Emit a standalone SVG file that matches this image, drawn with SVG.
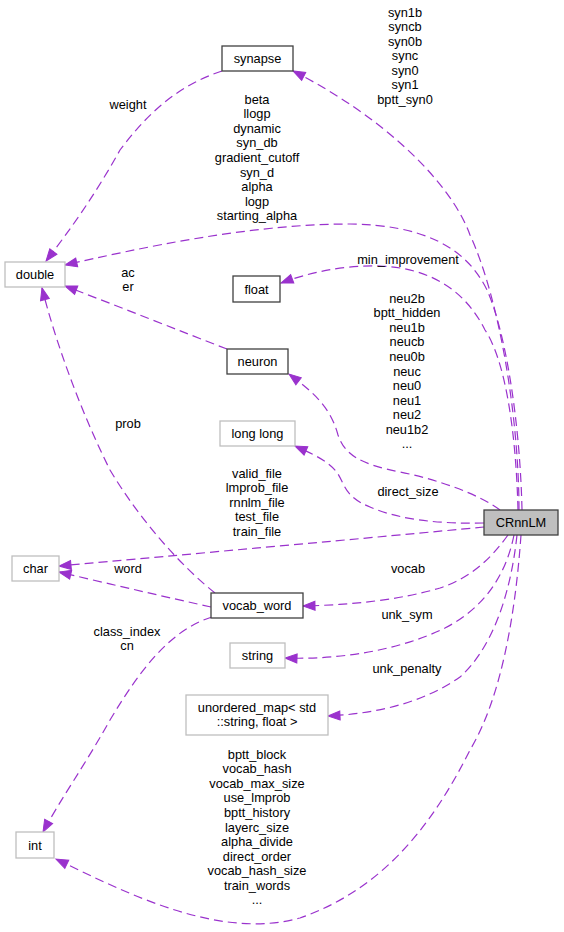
<svg xmlns="http://www.w3.org/2000/svg" width="564" height="932" viewBox="0 0 564 932">
<style>
text{font-family:"Liberation Sans",Arial,sans-serif;font-size:12.8px;fill:#000;text-anchor:middle}
.n{fill:#fff;stroke:#404040;stroke-width:1.3}
.g{fill:#fff;stroke:#bfbfbf;stroke-width:1.3}
.m{fill:#bfbfbf;stroke:#404040;stroke-width:1.3}
.e{fill:none;stroke:#9a32cd;stroke-width:1.2;stroke-dasharray:9,5;marker-end:url(#ah)}
</style>
<defs>
<marker id="ah" markerWidth="14" markerHeight="11" refX="12.5" refY="5" orient="auto" markerUnits="userSpaceOnUse" overflow="visible">
<path d="M0.5,0.5 L12.5,5 L0.5,9.5 z" fill="#9a32cd" stroke="#9a32cd" stroke-width="1"/>
</marker>
</defs>
<rect width="564" height="932" fill="#fff"/>
<g id="connectors">
<path class="e" d="M519,510 C519,420 500,300 470,235 C450,180 380,115 293,71"/>
<path class="e" d="M522,510 C520,420 505,330 487,290 C465,245 420,225 350,224 C250,224 140,248 65,265"/>
<path class="e" d="M518,510 C516,430 505,360 485,330 C465,290 430,268 380,266 C340,265 305,274 281,283"/>
<path class="e" d="M500,510 C480,495 440,480 400,472 C360,464 345,455 338,435 C330,405 310,390 289,374"/>
<path class="e" d="M484,523 C440,524 400,520 370,507 C345,497 345,485 338,474 C330,462 315,455 295,446"/>
<path class="e" d="M484,527 C380,537 180,555 59,566"/>
<path class="e" d="M508,535 C490,560 470,578 440,588 C400,600 350,605 303,606"/>
<path class="e" d="M514,535 C505,580 480,610 445,628 C400,650 340,660 285,658"/>
<path class="e" d="M517,535 C510,600 490,650 460,677 C420,705 370,714 328,716"/>
<path class="e" d="M521,535 C515,620 500,700 470,750 C430,830 380,890 300,918 C220,940 130,895 56,859"/>
<path class="e" d="M222,71 C180,85 150,110 120,150 C95,195 70,230 46,261"/>
<path class="e" d="M227,349 C180,331 120,307 65,286"/>
<path class="e" d="M215,593 C180,565 140,520 110,470 C80,410 55,340 42,288"/>
<path class="e" d="M211,607 C170,598 110,584 59,572"/>
<path class="e" d="M212,617 C170,630 140,670 110,720 C85,765 60,800 43,832"/>
</g>
<g id="edge-labels">
<text x="405" y="16.5">syn1b</text>
<text x="405" y="31">syncb</text>
<text x="405" y="45.5">syn0b</text>
<text x="405" y="60">sync</text>
<text x="405" y="74.5">syn0</text>
<text x="405" y="89">syn1</text>
<text x="405" y="103.5">bptt_syn0</text>
<text x="128" y="108.5">weight</text>
<text x="257" y="103.5">beta</text>
<text x="257" y="118.1">llogp</text>
<text x="257" y="132.7">dynamic</text>
<text x="257" y="147.3">syn_db</text>
<text x="257" y="161.9">gradient_cutoff</text>
<text x="257" y="176.5">syn_d</text>
<text x="257" y="191.1">alpha</text>
<text x="257" y="205.7">logp</text>
<text x="257" y="220.3">starting_alpha</text>
<text x="408" y="263.5">min_improvement</text>
<text x="128" y="276.5">ac</text>
<text x="128" y="291">er</text>
<text x="407" y="302.5">neu2b</text>
<text x="407" y="317.1">bptt_hidden</text>
<text x="407" y="331.7">neu1b</text>
<text x="407" y="346.3">neucb</text>
<text x="407" y="360.9">neu0b</text>
<text x="407" y="375.5">neuc</text>
<text x="407" y="390.1">neu0</text>
<text x="407" y="404.7">neu1</text>
<text x="407" y="419.3">neu2</text>
<text x="407" y="433.9">neu1b2</text>
<text x="407" y="448">...</text>
<text x="408" y="495.5">direct_size</text>
<text x="128" y="427.5">prob</text>
<text x="257" y="477.5">valid_file</text>
<text x="257" y="492.1">lmprob_file</text>
<text x="257" y="506.7">rnnlm_file</text>
<text x="257" y="521.3">test_file</text>
<text x="257" y="535.9">train_file</text>
<text x="128" y="572.5">word</text>
<text x="408" y="572.5">vocab</text>
<text x="407" y="618.5">unk_sym</text>
<text x="407" y="672.5">unk_penalty</text>
<text x="127" y="635.5">class_index</text>
<text x="127" y="650">cn</text>
<text x="257" y="758.5">bptt_block</text>
<text x="257" y="773.1">vocab_hash</text>
<text x="257" y="787.7">vocab_max_size</text>
<text x="257" y="802.3">use_lmprob</text>
<text x="257" y="816.9">bptt_history</text>
<text x="257" y="831.5">layerc_size</text>
<text x="257" y="846.1">alpha_divide</text>
<text x="257" y="860.7">direct_order</text>
<text x="257" y="875.3">vocab_hash_size</text>
<text x="257" y="889.9">train_words</text>
<text x="257" y="904">...</text>
</g>
<g id="CRnnLM"><rect class="m" x="484" y="510" width="74" height="25"/><text x="521" y="527">CRnnLM</text></g>
<g id="synapse"><rect class="n" x="222" y="46" width="71" height="25"/><text x="257.5" y="63">synapse</text></g>
<g id="double"><rect class="g" x="5" y="262" width="60" height="25"/><text x="35" y="279">double</text></g>
<g id="float"><rect class="n" x="233" y="276" width="47" height="26"/><text x="256.5" y="293.5">float</text></g>
<g id="neuron"><rect class="n" x="227" y="349" width="61" height="25"/><text x="257.5" y="366">neuron</text></g>
<g id="long_long"><rect class="g" x="220" y="421" width="75" height="25"/><text x="257.5" y="438">long long</text></g>
<g id="char"><rect class="g" x="12" y="556" width="47" height="25"/><text x="35.5" y="573">char</text></g>
<g id="vocab_word"><rect class="n" x="211" y="593" width="92" height="25"/><text x="257" y="610">vocab_word</text></g>
<g id="string"><rect class="g" x="230" y="643" width="55" height="25"/><text x="257.5" y="660">string</text></g>
<g id="unordered_map"><rect class="g" x="186" y="695" width="142" height="40"/><text x="257" y="711.5">unordered_map&lt; std</text><text x="257" y="725.5">::string, float &gt;</text></g>
<g id="int"><rect class="g" x="16" y="832" width="38" height="26"/><text x="35" y="849.5">int</text></g>
</svg>
